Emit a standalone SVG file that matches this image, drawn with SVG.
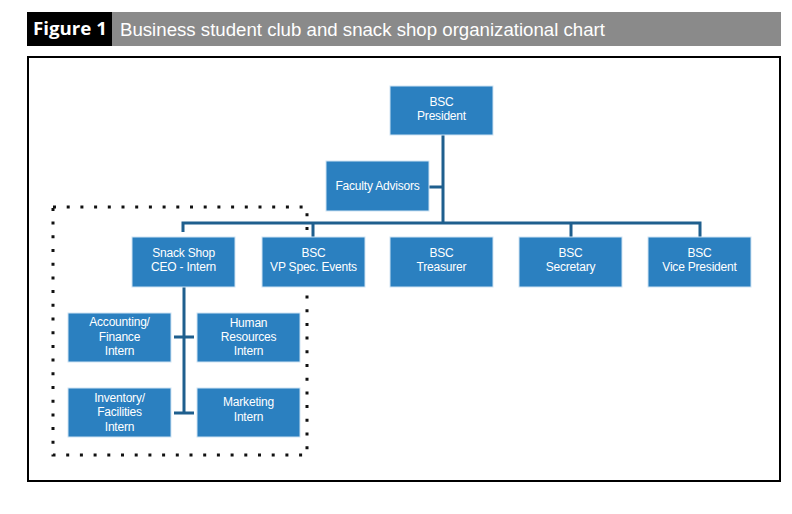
<svg xmlns="http://www.w3.org/2000/svg" width="792" height="514" viewBox="0 0 792 514">
<style>
.box{fill:#2b80c0;stroke:#cfe3f3;stroke-width:1}
.t{font-family:"Liberation Sans",Arial,sans-serif;font-size:12px;fill:#ffffff;text-anchor:middle;letter-spacing:-0.2px}
.c{fill:none;stroke:#1f5f8e;stroke-width:3}
</style>
<rect x="0" y="0" width="792" height="514" fill="#ffffff"/>
<g id="title">
<rect x="27" y="12" width="85" height="34" fill="#000000"/>
<rect x="112" y="12" width="669" height="34" fill="#8a8a8a"/>
<text x="33" y="35" font-family="'Open Sans','Liberation Sans',sans-serif" font-weight="bold" font-size="18" fill="#ffffff" textLength="74" lengthAdjust="spacingAndGlyphs">Figure 1</text>
<text x="120" y="36" font-family="'Liberation Sans',Arial,sans-serif" font-size="17.5" fill="#ffffff" textLength="485" lengthAdjust="spacingAndGlyphs">Business student club and snack shop organizational chart</text>
</g>
<rect x="28" y="57" width="752" height="424" fill="none" stroke="#000000" stroke-width="2"/>
<rect id="snackshop-boundary" x="53" y="207" width="254" height="248" fill="none" stroke="#111111" stroke-width="3" stroke-dasharray="3 10.7"/>
<g id="connectors">
<path class="c" d="M443 135V224M429 187H443M183 232V223H700V237M313 223V237M571 223V237"/>
<path class="c" d="M184 287V413M174 337H194M174 413H194"/>
</g>
<g id="president"><rect class="box" x="390" y="86" width="103" height="49"/><text class="t" x="441.5" y="106">BSC</text><text class="t" x="441.5" y="120">President</text></g>
<g id="faculty"><rect class="box" x="326" y="161" width="103" height="50"/><text class="t" x="377.5" y="190">Faculty Advisors</text></g>
<g id="snack-ceo"><rect class="box" x="132" y="237" width="103" height="50"/><text class="t" x="183.5" y="257">Snack Shop</text><text class="t" x="183.5" y="271">CEO - Intern</text></g>
<g id="vp-events"><rect class="box" x="262" y="237" width="103" height="50"/><text class="t" x="313.5" y="257">BSC</text><text class="t" x="313.5" y="271">VP Spec. Events</text></g>
<g id="treasurer"><rect class="box" x="390" y="237" width="103" height="50"/><text class="t" x="441.5" y="257">BSC</text><text class="t" x="441.5" y="271">Treasurer</text></g>
<g id="secretary"><rect class="box" x="519" y="237" width="103" height="50"/><text class="t" x="570.5" y="257">BSC</text><text class="t" x="570.5" y="271">Secretary</text></g>
<g id="vice-president"><rect class="box" x="648" y="237" width="103" height="50"/><text class="t" x="699.5" y="257">BSC</text><text class="t" x="699.5" y="271">Vice President</text></g>
<g id="accounting"><rect class="box" x="68" y="313" width="103" height="49"/><text class="t" x="119.5" y="326">Accounting/</text><text class="t" x="119.5" y="341">Finance</text><text class="t" x="119.5" y="355">Intern</text></g>
<g id="hr"><rect class="box" x="197" y="313" width="103" height="49"/><text class="t" x="248.5" y="327">Human</text><text class="t" x="248.5" y="341">Resources</text><text class="t" x="248.5" y="355">Intern</text></g>
<g id="inventory"><rect class="box" x="68" y="388" width="103" height="49"/><text class="t" x="119.5" y="402">Inventory/</text><text class="t" x="119.5" y="416">Facilities</text><text class="t" x="119.5" y="431">Intern</text></g>
<g id="marketing"><rect class="box" x="197" y="388" width="103" height="49"/><text class="t" x="248.5" y="406">Marketing</text><text class="t" x="248.5" y="421">Intern</text></g>
</svg>
